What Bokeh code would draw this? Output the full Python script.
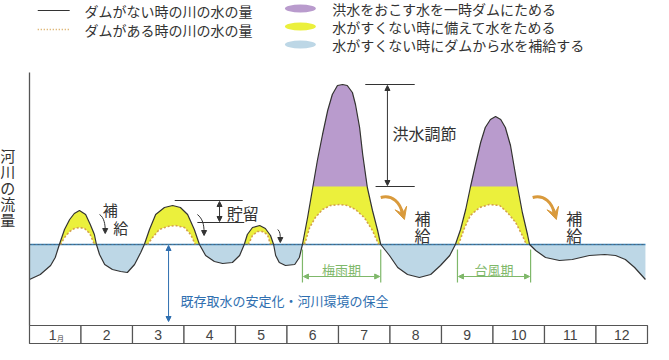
import numpy as np
from bokeh.plotting import figure
from bokeh.models import Arrow, NormalHead, VeeHead, Range1d
from bokeh.core.properties import value
from bokeh.embed import file_html
from bokeh.resources import INLINE

# ---------------- data (month position, relative river flow; 0 = stable flow level) -------------
months = ["1", "2", "3", "4", "5", "6", "7", "8", "9", "10", "11", "12"]

flow_month = [0.00, 0.21, 0.41, 0.50, 0.58, 0.68, 0.78, 0.87, 0.97, 1.09, 1.18, 1.26, 1.30,
              1.36, 1.46, 1.61, 1.77, 1.90, 2.04, 2.16, 2.23, 2.33, 2.45, 2.62, 2.78, 2.93,
              3.07, 3.20, 3.30, 3.42, 3.59, 3.75, 3.94, 4.08, 4.17, 4.23, 4.33, 4.47, 4.58,
              4.68, 4.74, 4.78, 4.85, 4.97, 5.15, 5.24, 5.30, 5.40, 5.50, 5.59, 5.69, 5.79,
              5.88, 5.98, 6.08, 6.17, 6.27, 6.33, 6.41, 6.47, 6.56, 6.66, 6.76, 6.82, 6.99,
              7.15, 7.34, 7.57, 7.79, 7.98, 8.16, 8.27, 8.37, 8.47, 8.56, 8.66, 8.76, 8.85,
              8.95, 9.05, 9.15, 9.24, 9.34, 9.42, 9.48, 9.57, 9.67, 9.71, 9.83, 10.02, 10.29,
              10.54, 10.87, 11.17, 11.38, 11.57, 11.75, 11.96]
flow_no_dam = [-35, -30, -21, -13, 0, 15, 25, 31, 34, 30, 20, 10, 0,
               -10, -20, -25, -27, -28, -20, -8, 0, 15, 30, 37, 39, 37,
               30, 15, 0, -11, -17, -19, -18, -11, 0, 10, 17, 19, 16,
               9, 0, -11, -18, -21, -20, -13, 0, 27, 57, 84, 110, 134,
               150, 159, 160, 159, 152, 140, 117, 90, 57, 34, 14, 0, -11,
               -23, -30, -33, -30, -21, -11, 0, 15, 35, 57, 80, 102, 117,
               125, 128, 125, 117, 99, 75, 57, 32, 10, 0, -6, -13, -16,
               -15, -11, -10, -11, -15, -23, -35]

dam_month = [
    [0.60, 0.68, 0.78, 0.87, 0.97, 1.07, 1.17, 1.22, 1.26],
    [2.29, 2.39, 2.52, 2.68, 2.83, 3.01, 3.13, 3.22],
    [4.25, 4.33, 4.43, 4.52, 4.62, 4.68],
    [5.34, 5.44, 5.55, 5.69, 5.84, 6.02, 6.17, 6.33, 6.50, 6.66, 6.78],
    [8.33, 8.45, 8.56, 8.74, 8.93, 9.13, 9.28, 9.44, 9.57, 9.65],
]
dam_flow = [
    [0, 7, 13, 16, 17, 16, 11, 5, 0],
    [0, 7, 15, 18, 19, 17, 10, 0],
    [0, 9, 13, 13, 10, 0],
    [0, 17, 27, 35, 39, 40, 39, 35, 27, 14, 0],
    [0, 17, 29, 37, 40, 39, 32, 22, 9, 0],
]
flood_cap = 58

legend_lines = ["ダムがない時の川の水の量", "ダムがある時の川の水の量"]
legend_areas = ["洪水をおこす水を一時ダムにためる", "水がすくない時に備えて水をためる",
                "水がすくない時にダムから水を補給する"]

# ---------------- styles ----------------
JP = value("Noto Sans CJK JP")
C_PURPLE = "#b99bcd"
C_YELLOW = "#ebf03c"
C_BLUE = "#bdd7e6"
C_LINE = "#333333"
C_DOT = "#d4a04c"
C_BASE = "#3a82b8"
C_GREEN = "#7fb86a"
C_TEXTBLUE = "#2f6fb0"
C_ORANGE = "#d99a3c"
C_TEXT = "#333333"

p = figure(width=653, height=344, x_range=Range1d(-0.5631, 12.1165), y_range=Range1d(-100, 244),
           output_backend="svg", toolbar_location=None, x_axis_type=None, y_axis_type=None,
           min_border=0, min_border_left=0, min_border_right=0, min_border_top=0,
           min_border_bottom=0, outline_line_color=None, background_fill_color="white",
           border_fill_color="white")
p.grid.visible = False

fx = np.array(flow_month)
fv = np.array(flow_no_dam, dtype=float)

# areas
p.varea(x=fx, y1=np.minimum(fv, 0), y2=0, fill_color=C_BLUE)
p.varea(x=fx, y1=0, y2=np.maximum(fv, 0), fill_color=C_YELLOW)
p.varea(x=fx, y1=flood_cap, y2=np.maximum(fv, flood_cap), fill_color=C_PURPLE)
p.patches(xs=dam_month, ys=dam_flow, fill_color="white", line_color=None)

# stable-flow baseline
p.line(x=[fx[0], fx[-1]], y=[0, 0], line_color=C_BASE, line_width=1.4)
p.line(x=[fx[0], fx[-1]], y=[0, 0], line_color="#555555", line_width=1, line_dash="2 2", line_alpha=0.6)

# curves
p.multi_line(xs=dam_month, ys=dam_flow, line_color=C_DOT, line_width=1.6, line_dash="2 2")
p.line(x=fx, y=fv, line_color=C_LINE, line_width=1.2)

# y axis line + label
p.segment(x0=[0], y0=[-81], x1=[0], y1=[172], line_color="#555555", line_width=1.3)
p.text(x=[-0.42] * 5, y=[89, 73, 57, 41, 25], text=list("河川の流量"), text_font=JP,
       text_font_size="15px", text_color=C_TEXT, text_align="center", text_baseline="middle")

# month bar
mi = np.arange(12)
p.quad(left=mi, right=mi + 1, top=-81, bottom=-99, fill_color="white", line_color="#555555", line_width=1.2)
lab_x = (mi + 0.5).astype(float)
lab_x[0] = 0.45
p.text(x=lab_x, y=[-90] * 12, text=months, text_font=value("Liberation Sans"), text_font_size="14px",
       text_color="#444444", text_align="center", text_baseline="middle")
p.text(x=[0.6], y=[-93], text=["月"], text_font=JP, text_font_size="7px", text_color="#444444",
       text_align="center", text_baseline="middle")

# ---------------- legend ----------------
p.segment(x0=[0.16], y0=[234], x1=[0.78], y1=[234], line_color=C_LINE, line_width=1.2)
p.segment(x0=[0.16], y0=[215], x1=[0.78], y1=[215], line_color=C_DOT, line_width=1.3, line_dash="1 2")
p.text(x=[1.07, 1.07], y=[234, 215], text=legend_lines, text_font=JP, text_font_size="14px",
       text_color=C_TEXT, text_align="left", text_baseline="middle")
p.ellipse(x=[5.26] * 3, y=[236, 218, 200], width=31, height=8, width_units="screen",
          height_units="screen", fill_color=[C_PURPLE, C_YELLOW, C_BLUE], line_color=None)
p.text(x=[5.88] * 3, y=[236, 218, 200], text=legend_areas, text_font=JP, text_font_size="14px",
       text_color=C_TEXT, text_align="left", text_baseline="middle")

# ---------------- annotations ----------------
def arrow(x0, y0, x1, y1, color, width=1.0, size=5, both=False):
    head = NormalHead(size=size, fill_color=color, line_color=color)
    kw = dict(end=head, x_start=x0, y_start=y0, x_end=x1, y_end=y1, line_color=color, line_width=width)
    if both:
        kw["start"] = NormalHead(size=size, fill_color=color, line_color=color)
    p.add_layout(Arrow(**kw))

# small curved supply arrows
for (sx, sy, c0x, c0y, c1x, c1y, ex, ey) in [(1.36, 30, 1.45, 27, 1.47, 20, 1.47, 14),
                                               (3.26, 30, 3.36, 26, 3.39, 20, 3.39, 12),
                                               (4.82, 15, 4.87, 13, 4.87, 9, 4.87, 5)]:
    p.bezier(x0=[sx], y0=[sy], x1=[ex], y1=[ey], cx0=[c0x], cy0=[c0y], cx1=[c1x], cy1=[c1y],
             line_color=C_LINE, line_width=1)
    arrow(ex, ey + 2, ex, ey - 3, C_LINE, size=5)

p.text(x=[1.57, 1.77], y=[35, 17], text=["補", "給"], text_font=JP, text_font_size="15px",
       text_color=C_TEXT, text_align="center", text_baseline="middle")

# storage
p.segment(x0=[2.82, 3.26], y0=[44, 22], x1=[4.14, 4.17], y1=[44, 22], line_color=C_LINE, line_width=1)
arrow(3.69, 23, 3.69, 43, C_LINE, size=5, both=True)
p.text(x=[4.14], y=[32], text=["貯留"], text_font=JP, text_font_size="16px", text_color=C_TEXT,
       text_align="center", text_baseline="middle")

# flood control
p.segment(x0=[6.52, 6.72], y0=[160, flood_cap], x1=[7.48, 7.48], y1=[160, flood_cap],
          line_color=C_LINE, line_width=1)
arrow(6.95, 59, 6.95, 159, C_LINE, size=5, both=True)
p.text(x=[7.05], y=[112], text=["洪水調節"], text_font=JP, text_font_size="16px", text_color=C_TEXT,
       text_align="left", text_baseline="middle")

# orange supply arrows after flood seasons
for dx in [0.0, 2.95]:
    p.bezier(x0=[6.82 + dx], y0=[47], x1=[7.25 + dx], y1=[30], cx0=[7.05 + dx], cy0=[50],
             cx1=[7.2 + dx], cy1=[42], line_color=C_ORANGE, line_width=3)
    p.add_layout(Arrow(end=VeeHead(size=12, fill_color=C_ORANGE, line_color=C_ORANGE),
                       x_start=7.22 + dx, y_start=35, x_end=7.28 + dx, y_end=25,
                       line_color=C_ORANGE, line_width=3))
    p.text(x=[7.63 + dx, 7.63 + dx], y=[27, 10], text=["補", "給"], text_font=JP, text_font_size="16px",
           text_color=C_TEXT, text_align="center", text_baseline="middle")

# seasons
for (a, b, lab) in [(5.30, 6.82, "梅雨期"), (8.31, 9.73, "台風期")]:
    p.segment(x0=[a, b], y0=[-5, -5], x1=[a, b], y1=[-38, -38], line_color=C_GREEN, line_width=1.2)
    arrow(a + 0.02, -32, b - 0.02, -32, C_GREEN, size=5, both=True)
    p.text(x=[(a + b) / 2], y=[-25], text=[lab], text_font=JP, text_font_size="13px",
           text_color=C_GREEN, text_align="center", text_baseline="middle")

# stable intake
arrow(2.70, -77, 2.70, -1, C_TEXTBLUE, size=5, both=True)
p.text(x=[2.93], y=[-56], text=["既存取水の安定化・河川環境の保全"], text_font=JP, text_font_size="13px",
       text_color=C_TEXTBLUE, text_align="left", text_baseline="middle")

open("out.html", "w").write(file_html(p, INLINE))
